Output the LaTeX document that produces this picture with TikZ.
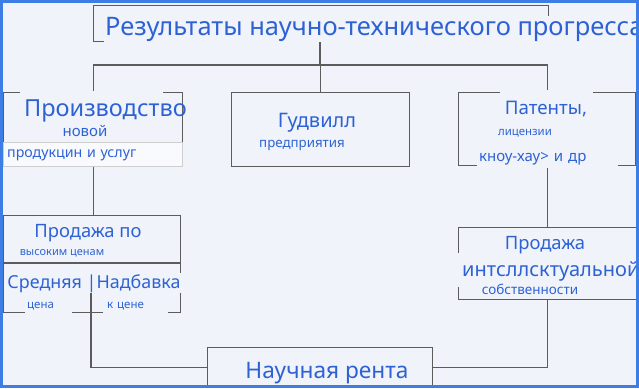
\documentclass[tikz,border=0pt]{standalone}
\usepackage{fontspec}
\setmainfont{Noto Sans}
\usetikzlibrary{positioning}
\definecolor{bgcol}{HTML}{F0F4FA}
\definecolor{framecol}{HTML}{3C7DE6}
\definecolor{txtcol}{HTML}{2E62D4}
\definecolor{linecol}{HTML}{5C5C5C}
\newcommand{\fsz}[1]{\fontsize{#1}{#1}\selectfont}

\begin{document}
\begin{tikzpicture}[
  x=1pt,y=-1pt,
  box/.style={draw=linecol,line width=1.3pt,anchor=north west,inner sep=0pt},
  lbl/.style={text=txtcol,fill=bgcol,inner sep=1pt},
  link/.style={draw=linecol,line width=1.3pt}
]
\fill[bgcol] (0,0) rectangle (639,388);
\useasboundingbox (0,0) rectangle (639,388);

% ---------------- boxes ----------------
\node[box,minimum width=455pt,minimum height=36pt] (res) at (93,5) {};
\node[box,minimum width=179pt,minimum height=74pt] (prod) at (3,92) {};
\node[box,minimum width=178pt,minimum height=74pt] (good) at (231,92) {};
\node[box,minimum width=177pt,minimum height=73pt] (pat) at (458,92) {};
\node[box,minimum width=177pt,minimum height=97pt] (sale) at (3,215) {};
\node[box,minimum width=178pt,minimum height=72pt] (ip) at (458,227) {};
\node[box,minimum width=225pt,minimum height=40pt] (rent) at (207,347) {};
\coordinate (split) at (0,263);
\draw[link] (sale.west |- split) -- (sale.east |- split);

% ---------------- connectors ----------------
\coordinate (hub) at (320,65);
\coordinate (saledrop) at (91,293);
\draw[link] (res.south -| hub) -- (hub);
\draw[link] (prod.north) |- (hub) -| (pat.north);
\draw[link] (good.north) -- (good.north |- hub);
\draw[link] (prod.south) -- (prod.south |- sale.north);
\draw[link] (pat.south) -- (pat.south |- ip.north);
\draw[link] (saledrop) |- (rent.west);
\draw[link] (ip.south) |- (rent.east);

% ---------------- texts ----------------
\node[lbl,anchor=base west,font=\fsz{25.5}] (restxt) at (104,35)
     {Результаты научно-технического прогресса};

\node[lbl,anchor=north west,font=\fsz{23.5},text width=135pt,align=left,
      inner xsep=4pt,inner ysep=0pt,text height=25pt,text depth=5pt]
     (prodtxt) at (20,91) {Производство};
\node[lbl,font=\fsz{15}] (prodnew) at (85,131) {новой};
\node[lbl,anchor=north west,font=\fsz{14.2},text width=171pt,align=left,
      inner xsep=4pt,inner ysep=0pt,text height=15pt,text depth=9pt,
      fill=white!55!bgcol,draw=linecol!30] (prodsvc) at (3,142)
     {продукцин и услуг};

\node[lbl,anchor=base,font=\fsz{20}] (goodtxt) at (317,127) {Гудвилл};
\node[lbl,font=\fsz{13.3}] (goodsub) at (302,145) {предприятия};

\node[lbl,anchor=north,font=\fsz{18.7},minimum width=93pt,inner ysep=0pt,
      text height=24pt,text depth=4pt] (pattxt) at (546,90) {Патенты,};
\node[lbl,font=\fsz{11.4}] (patlic) at (525,133) {лицензии};
\node[lbl,anchor=base west,font=\fsz{15},text width=137pt,align=left,
      inner xsep=2pt,inner ysep=0pt,text depth=7pt] (patkh) at (477,161)
     {кноу-хау> и др};

\node[lbl,anchor=base,font=\fsz{18.4}] (saletxt) at (88,237) {Продажа по};
\node[lbl,font=\fsz{11}] (salehigh) at (62,253) {высоким ценам};
\node[lbl,anchor=base,font=\fsz{17.9}] (salemid) at (94,288) {Средняя |Надбавка};
\node[lbl,anchor=base west,font=\fsz{11.5},text width=43pt,align=left,
      inner xsep=2pt,inner ysep=0pt,text depth=6pt] (saleprice) at (25,308) {цена};
\node[lbl,anchor=base west,font=\fsz{11.5},text width=57pt,align=left,
      inner xsep=4pt,inner ysep=0pt,text depth=6pt] (saleadd) at (103,308) {к цене};

\node[lbl,anchor=base west,font=\fsz{20},inner xsep=5pt,inner ysep=1pt,
      text height=22pt,text depth=10pt] (ipmid) at (457,276) {интсллсктуальной};
\node[lbl,anchor=base,font=\fsz{18.4}] (iptxt) at (545,249) {Продажа};
\node[lbl,anchor=base,font=\fsz{13.5}] (ipsub) at (530,294) {собственности};

\node[lbl,anchor=base,font=\fsz{22.7}] (renttxt) at (327,378) {Научная рента};

% ---------------- frame ----------------
\draw[framecol,line width=3pt] (1.5,1.5) rectangle (637.5,386.5);
\end{tikzpicture}
\end{document}
